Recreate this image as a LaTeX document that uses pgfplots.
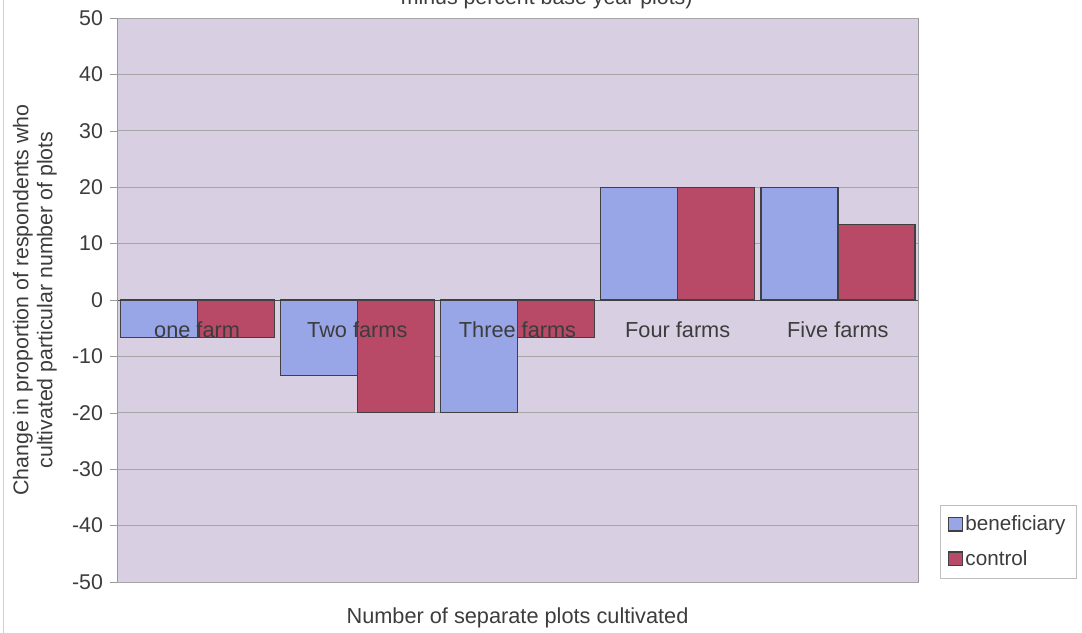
\documentclass[border=0pt]{standalone}
\usepackage{pgfplots}
\pgfplotsset{compat=1.18}
\usepackage{fontspec}
\setmainfont{Liberation Sans}
\definecolor{plotbg}{RGB}{216,207,226}
\definecolor{benef}{RGB}{152,166,232}
\definecolor{ctrl}{RGB}{184,74,104}
\definecolor{txt}{RGB}{60,60,60}
\tikzset{catlabel/.style={font=\fontsize{16.3}{19}\selectfont, text=txt, anchor=north, yshift=-12.5pt}}
\begin{document}
\begin{tikzpicture}[x=1pt,y=1pt]
\path (0,0) rectangle (811.5,473.25);
\draw[gray!35, overlay] (2.25,-2) -- (2.25,480);
\node[overlay, anchor=base, font=\fontsize{16}{19}\selectfont, text=txt] at (410,469.5) {minus percent base year plots)};
\begin{axis}[
    at={(87.75pt,36.75pt)}, anchor=south west,
    scale only axis, width=600.75pt, height=423pt,
    ybar=0pt, bar width=57.75pt,
    xmin=-0.5, xmax=4.5, ymin=-50, ymax=50,
    axis x line*=middle, axis y line*=left,
    axis line style={draw=gray!80},
    x axis line style={draw=black!70, -},
    y axis line style={-},
    axis background/.style={fill=plotbg, draw=gray!80},
    ymajorgrids, grid style={gray!70, line width=0.5pt},
    ytick distance=10,
    xtick=\empty,
    y tick style={draw=gray!80},
    tick align=outside, major tick length=5pt,
    yticklabel style={xshift=-2pt},
    ticklabel style={font=\fontsize{16}{19}\selectfont, text=txt},
    /pgf/number format/assume math mode=true,
    xlabel={Number of separate plots cultivated},
    xlabel style={at={(axis description cs:0.5,0)}, anchor=north, yshift=-16pt,
        font=\fontsize{16.3}{19}\selectfont, text=txt},
    ylabel={Change in proportion of respondents who\\cultivated particular number of plots},
    ylabel style={at={(axis description cs:-0.1024,0.5)}, anchor=center, align=center,
        font=\fontsize{16}{18}\selectfont, text=txt},
    legend style={at={(axis description cs:1.0275,0.007)}, anchor=south west,
        draw=gray!50, font=\fontsize{15.5}{18}\selectfont, text=txt,
        inner xsep=6pt, inner ysep=6pt, row sep=9pt},
    legend cell align=left,
    legend image code/.code={\draw[#1] (0pt,-5pt) rectangle (10pt,5pt);},
]
\addplot[fill=benef, draw=black!75, line width=0.9pt]
    coordinates {(0,-6.67) (1,-13.33) (2,-20) (3,20) (4,20)};
\addlegendentry{beneficiary}
\addplot[fill=ctrl, draw=black!75, line width=0.9pt]
    coordinates {(0,-6.67) (1,-20) (2,-6.67) (3,20) (4,13.33)};
\addlegendentry{control}
% category names sit at the zero line, over the bars
\node[catlabel] at (axis cs:0,0) {one farm};
\node[catlabel] at (axis cs:1,0) {Two farms};
\node[catlabel] at (axis cs:2,0) {Three farms};
\node[catlabel] at (axis cs:3,0) {Four farms};
\node[catlabel] at (axis cs:4,0) {Five farms};
\end{axis}
\end{tikzpicture}
\end{document}
